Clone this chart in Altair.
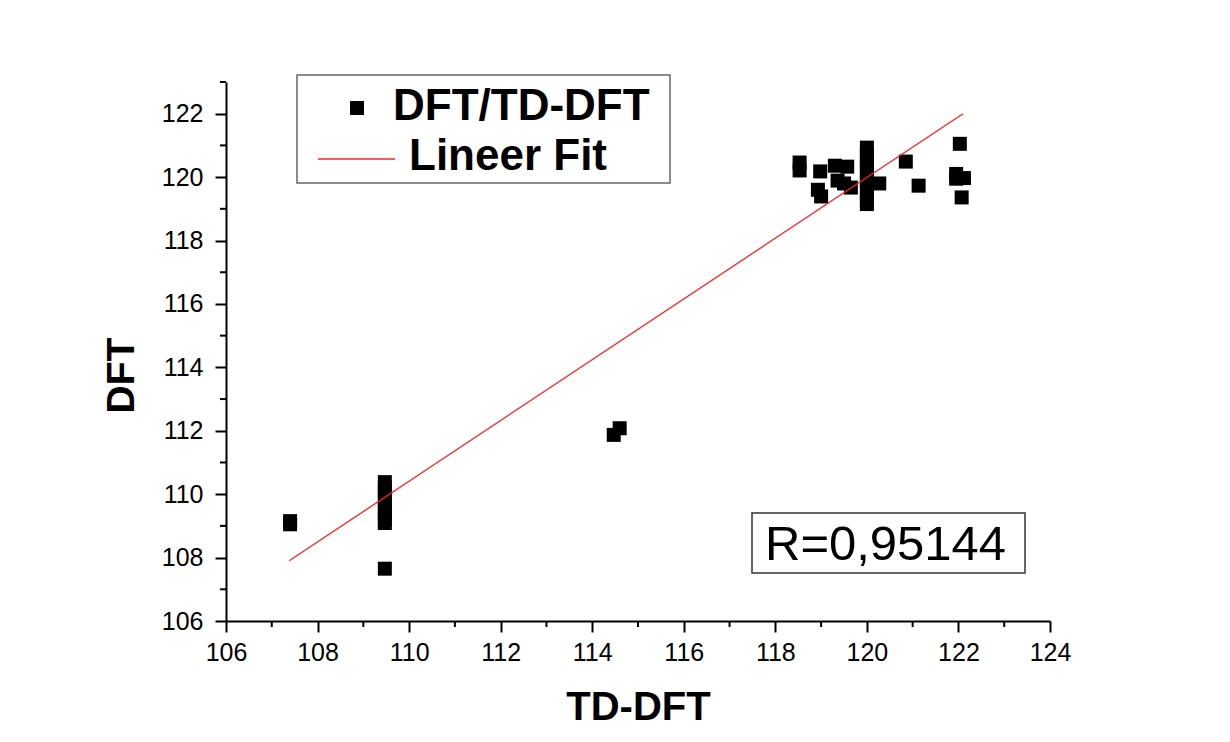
import altair as alt
import pandas as pd

# ---- data ----
td_dft = [107.4, 107.4,
          109.47, 109.47, 109.47, 109.47, 109.47, 109.47, 109.47, 109.47, 109.47,
          114.47, 114.6,
          118.53, 118.53, 118.98, 118.93, 119.0, 119.3, 119.57, 119.36, 119.65, 119.5,
          120.0, 120.0, 120.0, 120.0, 120.0, 120.0, 120.0, 120.0, 120.0, 120.0,
          120.27, 120.85, 121.13, 122.03, 121.95, 121.95, 122.12, 122.07]
dft = [109.05, 109.15,
       110.38, 110.2, 110.0, 109.8, 109.6, 109.4, 109.2, 109.09, 107.65,
       111.87, 112.08,
       120.46, 120.21, 120.18, 119.6, 119.39, 120.36, 120.33, 119.89, 119.67, 119.8,
       120.93, 120.7, 120.5, 120.3, 120.1, 119.9, 119.7, 119.5, 119.3, 119.15,
       119.8, 120.49, 119.73, 121.05, 120.1, 119.95, 119.97, 119.36]

fit_x = [107.38, 122.1]
fit_y = [107.9, 122.0]

x_major = [106, 108, 110, 112, 114, 116, 118, 120, 122, 124]
y_major = [106, 108, 110, 112, 114, 116, 118, 120, 122]
x_minor = [107, 109, 111, 113, 115, 117, 119, 121, 123]
y_minor = [107, 109, 111, 113, 115, 117, 119, 121, 123]

legend_labels = ["DFT/TD-DFT", "Lineer Fit"]
r_text = "R=0,95144"
x_title = "TD-DFT"
y_title = "DFT"

FONT = "Liberation Sans"
W, H = 824, 539

pts = pd.DataFrame({"td": td_dft, "dft": dft})
fit = pd.DataFrame({"td": fit_x, "dft": fit_y})
xmin = pd.DataFrame({"td": x_minor})
ymin = pd.DataFrame({"dft": y_minor})
one = pd.DataFrame({"k": [0]})

xscale = alt.Scale(domain=[106, 124], nice=False, zero=False)
yscale = alt.Scale(domain=[106, 123], nice=False, zero=False)

xaxis = alt.Axis(values=x_major, title=x_title, grid=False, domainColor="black",
                 domainWidth=2, tickColor="black", tickWidth=2, tickSize=11,
                 labelFont=FONT, labelFontSize=25, labelColor="black",
                 labelBaseline="alphabetic", labelPadding=28, labelFlush=False,
                 titleFont=FONT, titleFontSize=40, titleFontWeight="bold",
                 titleColor="black", titleX=412, titleY=98,
                 titleBaseline="alphabetic", titleAlign="center")
yaxis = alt.Axis(values=y_major, title=y_title, grid=False, domainColor="black",
                 domainWidth=2, tickColor="black", tickWidth=2, tickSize=11,
                 labelFont=FONT, labelFontSize=25, labelColor="black",
                 labelPadding=12, labelFlush=False,
                 titleFont=FONT, titleFontSize=39, titleFontWeight="bold",
                 titleColor="black", titleX=-93, titleY=293, titleAngle=270,
                 titleBaseline="alphabetic", titleAlign="center")

X = lambda: alt.X("td:Q", scale=xscale, axis=xaxis)
Y = lambda: alt.Y("dft:Q", scale=yscale, axis=yaxis)

points = alt.Chart(pts).mark_point(shape="square", filled=True, size=196,
                                   color="black", opacity=1).encode(x=X(), y=Y())

line = alt.Chart(fit).mark_line(color="#ff2020", strokeWidth=1.3).encode(x=X(), y=Y())

xminor = alt.Chart(xmin).mark_rule(color="black", strokeWidth=2).encode(
    x=X(), y=alt.value(H), y2=alt.value(H + 6))
yminor = alt.Chart(ymin).mark_rule(color="black", strokeWidth=2).encode(
    y=Y(), x=alt.value(0), x2=alt.value(-6))

# legend box
leg_box = alt.Chart(one).mark_rect(fill="white", stroke="#666666", strokeWidth=1.5).encode(
    x=alt.value(71), x2=alt.value(444), y=alt.value(-7), y2=alt.value(101))
leg_sym = alt.Chart(one).mark_point(shape="square", filled=True, size=196, color="black",
                                    opacity=1).encode(x=alt.value(131), y=alt.value(26))
leg_line = alt.Chart(one).mark_rule(color="#ff2020", strokeWidth=1.3).encode(
    x=alt.value(92), x2=alt.value(169), y=alt.value(77))
leg_t1 = alt.Chart(one).mark_text(text=legend_labels[0], font=FONT, fontSize=44,
                                  fontWeight="bold", align="left", baseline="alphabetic",
                                  color="black").encode(x=alt.value(167), y=alt.value(38))
leg_t2 = alt.Chart(one).mark_text(text=legend_labels[1], font=FONT, fontSize=44,
                                  fontWeight="bold", align="left", baseline="alphabetic",
                                  color="black").encode(x=alt.value(183), y=alt.value(88))

# R box
r_box = alt.Chart(one).mark_rect(fill="white", stroke="#333333", strokeWidth=1.5).encode(
    x=alt.value(526), x2=alt.value(799), y=alt.value(431), y2=alt.value(491))
r_t = alt.Chart(one).mark_text(text=r_text, font=FONT, fontSize=49, align="left",
                               baseline="alphabetic", color="black").encode(
    x=alt.value(539), y=alt.value(478))

chart = alt.layer(points, line, xminor, yminor, leg_box, leg_sym, leg_line, leg_t1,
                  leg_t2, r_box, r_t).properties(
    width=W, height=H,
    padding={"left": 226, "top": 82, "right": 180, "bottom": 121},
    autosize=alt.AutoSizeParams(type="none"),
    background="white",
).configure_view(stroke=None)

chart.save("out.html", embed_options={"renderer": "svg", "actions": False})
